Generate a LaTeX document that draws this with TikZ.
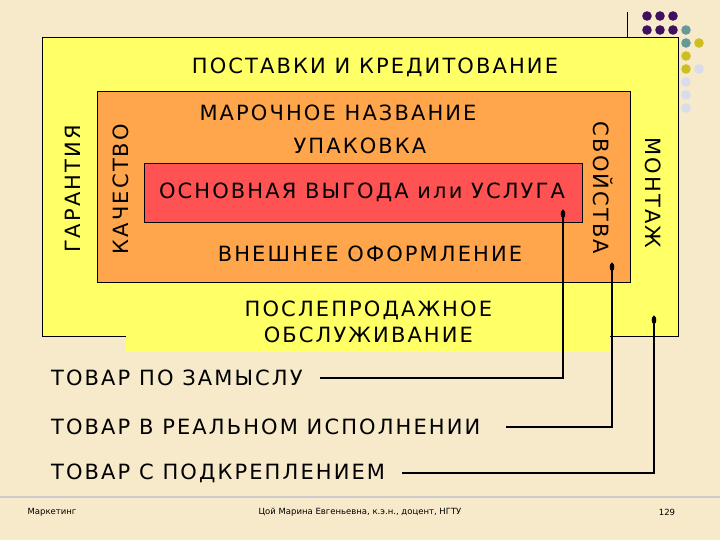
\documentclass[tikz,border=0pt]{standalone}
\usepackage{fontspec}
\setmainfont{DejaVu Sans}
\newfontfamily\slidefont[LetterSpace=10]{DejaVu Sans}
\usetikzlibrary{positioning,arrows.meta}
\definecolor{parchment}{RGB}{247,234,202}
\definecolor{lemon}{RGB}{255,255,102}
\definecolor{tangerine}{RGB}{255,166,77}
\definecolor{coral}{RGB}{255,82,82}
\definecolor{plum}{RGB}{64,16,96}
\definecolor{teal}{RGB}{102,153,153}
\definecolor{olive}{RGB}{204,192,32}
\definecolor{lavender}{RGB}{216,220,236}
\tikzset{
  level/.style  = {draw, line width=0.8pt, anchor=north west, inner sep=0pt},
  txt/.style    = {font=\slidefont\fontsize{21}{26}\selectfont, inner sep=2pt,
                   align=center},
  item/.style   = {txt, anchor=west, inner sep=5pt},
  link/.style   = {line width=2.5pt, shorten <=12pt,
                   -{Ellipse[length=8pt,width=4.5pt]}},
  foot/.style   = {font=\fontsize{8.5}{10}\selectfont, inner sep=0pt},
}

\begin{document}
\begin{tikzpicture}[x=1pt, y=-1pt]
  \useasboundingbox[fill=parchment] (0,0) rectangle (720,540);
  % slide ornaments
  \draw[line width=0.8pt] (627,12) -- (627,37);
  \foreach \px/\py/\col in {647/16/plum, 660/16/plum, 673/16/plum,
      647/30/plum, 660/30/plum, 673/30/plum, 686/30/teal,
      686/43/teal, 699/43/olive, 686/56/olive, 686/69/olive,
      699/69/lavender, 686/82/lavender, 686/95/lavender, 686/108/lavender}
    \fill[\col] (\px,\py) circle (4.8pt);
  \draw[black!20, line width=1.6pt] (0,497) -- (720,497);

  % product levels
  \node[level, fill=lemon, minimum width=636pt, minimum height=299pt]
       (augmented) at (42,37) {};
  \node[level, fill=tangerine, minimum width=533pt, minimum height=191pt]
       (actual) at (97,91) {};
  \node[level, fill=coral, minimum width=438pt, minimum height=59pt]
       (core) at (144,163) {};
  \node[txt, level, draw=none, fill=lemon, minimum width=484pt,
        minimum height=62pt] (service) at (126,290)
       {ПОСЛЕПРОДАЖНОЕ\\ОБСЛУЖИВАНИЕ};

  \node[txt] (supply) at (375,67) {ПОСТАВКИ И КРЕДИТОВАНИЕ};
  \node[txt] (brand) at (338,113) {МАРОЧНОЕ НАЗВАНИЕ};
  \node[txt] (pack) at (360,146) {УПАКОВКА};
  \node[txt] (benefit) at (362,192) {ОСНОВНАЯ ВЫГОДА или УСЛУГА};
  \node[txt] (design) at (370,254) {ВНЕШНЕЕ ОФОРМЛЕНИЕ};
  \node[txt, rotate=90] (warranty) at (72.5,189) {ГАРАНТИЯ};
  \node[txt, rotate=90] (quality) at (120.5,189) {КАЧЕСТВО};
  \node[txt, rotate=-90] (props) at (603.5,188) {СВОЙСТВА};
  \node[txt, rotate=-90] (install) at (653.5,193) {МОНТАЖ};

  % legend
  \coordinate (core-pt) at (563,210);
  \coordinate (actual-pt) at (612,263);
  \coordinate (augm-pt) at (654,316);
  \node[item] (l-core) at (46,378) {ТОВАР ПО ЗАМЫСЛУ};
  \node[item] (l-actual) at (46,427) {ТОВАР В РЕАЛЬНОМ ИСПОЛНЕНИИ};
  \node[item] (l-augm) at (46,473) {ТОВАР С ПОДКРЕПЛЕНИЕМ};
  \draw[link] (l-core) -| (core-pt);
  \draw[link, shorten <=20pt] (l-actual) -| (actual-pt);
  \draw[link] (l-augm) -| (augm-pt);

  % footer
  \node[foot] (f-left) at (52,512) {Маркетинг};
  \node[foot] (f-mid) at (360,512) {Цой Марина Евгеньевна, к.э.н., доцент, НГТУ};
  \node[foot] (f-page) at (667,512) {129};
\end{tikzpicture}
\end{document}
